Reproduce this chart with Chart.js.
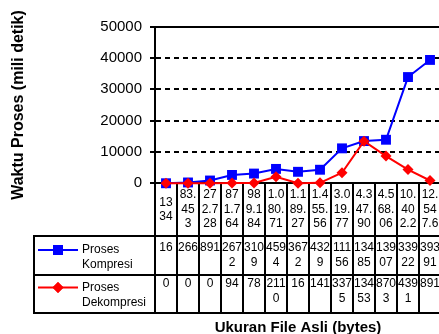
<!DOCTYPE html>
<html>
<head>
<meta charset="utf-8">
<script src="https://cdn.jsdelivr.net/npm/chart.js@4/dist/chart.umd.min.js"></script>
<style>
  html, body { margin: 0; padding: 0; background: #fff; overflow: hidden; }
  #wrap { width: 439px; height: 334px; overflow: hidden; position: relative; }
  canvas { display: block; }
</style>
</head>
<body>
<div id="wrap"><canvas id="c" width="445" height="340"></canvas></div>
<script>
// File sizes (bytes) as printed in the data table header
const categories = ["1334", "83.453", "272.728", "871.764", "989.184", "1.080.71", "1.189.27",
                    "1.455.56", "3.019.77", "4.347.90", "4.568.06", "10.402.2", "12.547.6"];
// Processing time in milliseconds
const kompresi   = [16, 266, 891, 2672, 3109, 4594, 3672, 4329, 11156, 13485, 13907, 33922, 39391];
const dekompresi = [0, 0, 0, 94, 78, 2110, 16, 141, 3375, 13453, 8703, 4391, 891];
const seriesNames = ["Proses Kompresi", "Proses Dekompresi"];
const yMin = 0, yMax = 50000, yStep = 10000;
const xTitle = "Ukuran File Asli (bytes)";
const yTitle = "Waktu Proses (mili detik)";

const FONT = '"Liberation Sans", Arial, sans-serif';
Chart.defaults.font.family = FONT;
Chart.defaults.color = '#000';

// break a string character by character so each line fits maxW
function wrapChars(ctx, text, maxW) {
  const lines = [];
  let cur = '';
  for (const ch of text) {
    const t = cur + ch;
    if (cur && ctx.measureText(t).width > maxW) { lines.push(cur); cur = ch; }
    else cur = t;
  }
  if (cur) lines.push(cur);
  return lines;
}

// Excel-style data table under the plot, with legend keys in the first column
const dataTable = {
  id: 'dataTable',
  beforeDatasetsDraw(chart) {
    const { ctx, chartArea, scales: { x } } = chart;
    const n = categories.length;
    const colW = (x.right - x.left) / n;
    const top = Math.round(chartArea.bottom);
    const rowY = [236, 275, 313];
    const legendLeft = 34;

    ctx.save();
    ctx.strokeStyle = '#000';
    ctx.lineWidth = 2;
    ctx.beginPath();
    // solid frame line along the top of the plot
    const yTop = Math.round(chartArea.top);
    ctx.moveTo(chartArea.left - 1, yTop);
    ctx.lineTo(chartArea.right + 1, yTop);
    for (let i = 0; i <= n; i++) {
      const bx = Math.round(x.left + i * colW);
      ctx.moveTo(bx, top);
      ctx.lineTo(bx, rowY[2] + 1);
    }
    ctx.moveTo(legendLeft, rowY[0] - 1);
    ctx.lineTo(legendLeft, rowY[2] + 1);
    rowY.forEach(y => { ctx.moveTo(legendLeft - 1, y); ctx.lineTo(x.right + 1, y); });
    ctx.stroke();

    ctx.fillStyle = '#000';
    ctx.font = '12px ' + FONT;
    ctx.textAlign = 'center';
    ctx.textBaseline = 'middle';

    // header row: category labels
    categories.forEach((c, i) => {
      const cx = x.getPixelForValue(i);
      const lines = wrapChars(ctx, c, 19);
      const y0 = 209.5 - (lines.length - 1) * 14.5 / 2;
      lines.forEach((l, k) => ctx.fillText(l, cx, y0 + k * 14.5));
    });

    // value rows + legend keys
    const firstLineY = [247.5, 284];
    const legendMid = [257.5, 295];
    chart.data.datasets.forEach((ds, r) => {
      ctx.textAlign = 'center';
      ds.data.forEach((v, i) => {
        const cx = x.getPixelForValue(i);
        wrapChars(ctx, String(v), 21).forEach((l, k) => ctx.fillText(l, cx, firstLineY[r] + k * 14.7));
      });

      const words = ds.label.split(' ');
      const y0 = legendMid[r] - (words.length - 1) * 15 / 2;
      ctx.textAlign = 'left';
      words.forEach((w, k) => ctx.fillText(w, 82, y0 + k * 15));

      ctx.strokeStyle = ds.borderColor;
      ctx.lineWidth = 2;
      ctx.beginPath();
      ctx.moveTo(38, y0);
      ctx.lineTo(78, y0);
      ctx.stroke();
      ctx.fillStyle = ds.pointBackgroundColor;
      Chart.helpers.drawPoint(ctx, { pointStyle: ds.pointStyle, radius: ds.pointRadius, rotation: 0, borderWidth: 0 }, 58, y0);
      ctx.fill();
      ctx.fillStyle = '#000';
    });
    ctx.restore();
  }
};

new Chart(document.getElementById('c'), {
  type: 'line',
  data: {
    labels: categories,
    datasets: [
      {
        label: seriesNames[0],
        data: kompresi,
        borderColor: '#0000FF',
        backgroundColor: '#0000FF',
        pointBackgroundColor: '#0000FF',
        pointBorderColor: '#0000FF',
        pointStyle: 'rect',
        pointRadius: 7,
        pointBorderWidth: 0,
        borderWidth: 2,
        tension: 0,
        clip: false,
        order: 2
      },
      {
        label: seriesNames[1],
        data: dekompresi,
        borderColor: '#FF0000',
        backgroundColor: '#FF0000',
        pointBackgroundColor: '#FF0000',
        pointBorderColor: '#FF0000',
        pointStyle: 'rectRot',
        pointRadius: 5.5,
        pointBorderWidth: 0,
        borderWidth: 2,
        tension: 0,
        clip: false,
        order: 1
      }
    ]
  },
  options: {
    responsive: false,
    devicePixelRatio: 1,
    animation: false,
    layout: { autoPadding: false, padding: { top: 26.7, right: 4, left: 0, bottom: 0 } },
    plugins: { legend: { display: false }, tooltip: { enabled: false } },
    scales: {
      x: {
        type: 'category',
        offset: true,
        grid: { display: false },
        border: { display: true, color: '#000', width: 2 },
        ticks: { display: false },
        title: {
          display: true,
          text: xTitle,
          color: '#000',
          font: { size: 15, weight: 'bold', family: FONT },
          padding: { top: 0, bottom: 3 }
        },
        afterFit(scale) { scale.height = 156.7; }
      },
      y: {
        min: yMin,
        max: yMax,
        grid: {
          color: '#000',
          lineWidth: 2,
          tickLength: 5,
          tickWidth: 2,
          tickColor: '#000'
        },
        border: {
          display: true,
          color: '#000',
          width: 2,
          dash: [5, 4]
        },
        ticks: {
          stepSize: yStep,
          padding: 8,
          color: '#000',
          font: { size: 15, family: FONT },
          callback: (v) => String(v)
        },
        title: {
          display: true,
          text: yTitle,
          color: '#000',
          font: { size: 16, weight: 'bold', family: FONT },
          padding: { top: 9, bottom: 0 }
        },
        afterFit(scale) { scale.width = 155; }
      }
    }
  },
  plugins: [dataTable]
});
</script>
</body>
</html>
